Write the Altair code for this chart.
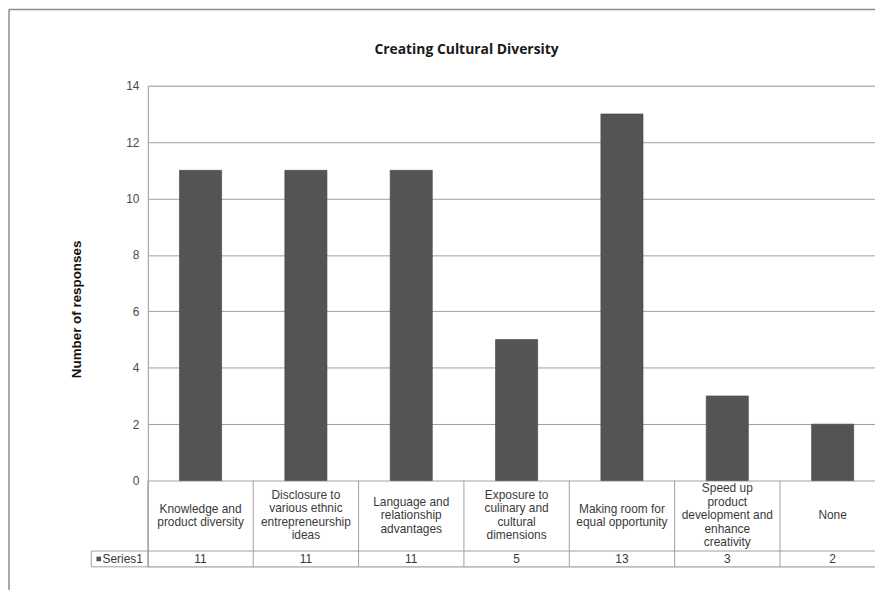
import altair as alt
import pandas as pd

# ---- data ----
categories = [
    "Knowledge and\nproduct diversity",
    "Disclosure to\nvarious ethnic\nentrepreneurship\nideas",
    "Language and\nrelationship\nadvantages",
    "Exposure to\nculinary and\ncultural\ndimensions",
    "Making room for\nequal opportunity",
    "Speed up\nproduct\ndevelopment and\nenhance\ncreativity",
    "None",
]
values = [11, 11, 11, 5, 13, 3, 2]
series_name = "Series1"
chart_title = "Creating Cultural Diversity"
y_ticks = [0, 2, 4, 6, 8, 10, 12, 14]

# ---- layout constants ----
W, H = 733, 485
PX_PER_UNIT = H / (14 + 3.06)
TABLE_BOTTOM = -3.06
ROW_SEP = -2.5
LABEL_Y = -1.23
VALUE_Y = -2.78
LEFT_CELL = -0.537
LINE_H = 13.5
FRAME_X = -1.318
FRAME_TOP = 16.7
FRAME_BOTTOM = -3.9
TITLE_X = 3.025
TITLE_Y = 15.27

n = len(categories)
df = pd.DataFrame({
    "i": list(range(n)),
    "label": categories,
    "value": values,
})
df["x0"] = df["i"] + 0.3
df["x1"] = df["i"] + 0.7
df["xc"] = df["i"] + 0.5
df["zero"] = 0
nlines = df["label"].str.count("\n") + 1
df["ly"] = LABEL_Y + (nlines - 1) / 2 * LINE_H / PX_PER_UNIT
df["vy"] = VALUE_Y

bounds = pd.DataFrame({"xb": list(range(n + 1))})
bounds["y0"] = 0
bounds["y1"] = TABLE_BOTTOM

hlines = pd.DataFrame({"xa": [LEFT_CELL, LEFT_CELL], "xe": [n, n], "yy": [ROW_SEP, TABLE_BOTTOM]})
cell = pd.DataFrame({"xa": [LEFT_CELL], "ya": [ROW_SEP], "yb": [TABLE_BOTTOM],
                     "kx": [-0.466], "tx": [-0.43], "ty": [VALUE_Y], "name": [series_name]})
frame_h = pd.DataFrame({"xa": [FRAME_X], "xe": [n], "yy": [FRAME_TOP]})
frame_v = pd.DataFrame({"xa": [FRAME_X], "ya": [FRAME_TOP], "yb": [FRAME_BOTTOM]})
title_df = pd.DataFrame({"tx": [TITLE_X], "ty": [TITLE_Y], "t": [chart_title]})

grid_col = "#a0a0a0"
bar_col = "#545454"
txt_col = "#3a3a3a"
FONT = "Liberation Sans"

xscale = alt.Scale(domain=[0, W / 106.2], nice=False, zero=False)
yscale = alt.Scale(domain=[TABLE_BOTTOM, 14], nice=False, zero=False)
yax = alt.Axis(values=y_ticks, grid=True, ticks=False, labelPadding=9,
               labelFont=FONT, labelFontSize=12, labelColor="#4a4a4a",
               domainColor=grid_col, gridColor=grid_col,
               title="Number of responses", titleFont=FONT,
               titleFontSize=13.5, titleFontWeight="bold", titleColor="#111111",
               titleX=-72, titleY=225, titleAngle=-90,
               titleAlign="center", titleBaseline="middle")


def X(f):
    return alt.X(f, scale=xscale, axis=None)


def Y(f):
    return alt.Y(f, scale=yscale, axis=yax)


base = alt.Chart(df)

bars = base.mark_bar(color=bar_col, stroke="#444444", strokeWidth=0.6).encode(
    x=X("x0:Q"), x2="x1:Q", y=Y("value:Q"), y2="zero:Q")

vrules = alt.Chart(bounds).mark_rule(color=grid_col, strokeWidth=1).encode(
    x=X("xb:Q"), y=Y("y0:Q"), y2="y1:Q")

hrules = alt.Chart(hlines).mark_rule(color=grid_col, strokeWidth=1).encode(
    x=X("xa:Q"), x2="xe:Q", y=Y("yy:Q"))

lrule = alt.Chart(cell).mark_rule(color=grid_col, strokeWidth=1).encode(
    x=X("xa:Q"), y=Y("ya:Q"), y2="yb:Q")

labels = base.mark_text(font=FONT, fontSize=12, lineHeight=LINE_H, color=txt_col,
                        lineBreak="\n", align="center", baseline="middle").encode(
    x=X("xc:Q"), y=Y("ly:Q"), text="label:N")

vals = base.mark_text(font=FONT, fontSize=12, color=txt_col,
                      align="center", baseline="middle").encode(
    x=X("xc:Q"), y=Y("vy:Q"), text="value:Q")

key = alt.Chart(cell).mark_point(shape="square", filled=True, size=22,
                                 color=bar_col, opacity=1).encode(
    x=X("kx:Q"), y=Y("ty:Q"))
keytxt = alt.Chart(cell).mark_text(font=FONT, fontSize=12, color=txt_col,
                                   align="left", baseline="middle").encode(
    x=X("tx:Q"), y=Y("ty:Q"), text="name:N")

ftop = alt.Chart(frame_h).mark_rule(color="#8c8c8c", strokeWidth=1.5).encode(
    x=X("xa:Q"), x2="xe:Q", y=Y("yy:Q"))
fleft = alt.Chart(frame_v).mark_rule(color="#8c8c8c", strokeWidth=1.5).encode(
    x=X("xa:Q"), y=Y("ya:Q"), y2="yb:Q")

title = alt.Chart(title_df).mark_text(font="Open Sans", fontSize=14, fontWeight="bold",
                                      color="#1a1a1a", align="center",
                                      baseline="middle").encode(
    x=X("tx:Q"), y=Y("ty:Q"), text="t:N")

chart = alt.layer(
    vrules, hrules, lrule, bars, labels, vals, key, keytxt, ftop, fleft, title
).properties(
    width=W, height=H,
    autosize=alt.AutoSizeParams(type="none"),
    padding={"left": 141, "top": 76, "right": 0, "bottom": 21},
).configure_view(stroke=None).configure(background="white")

chart.save("out.html", embed_options={"renderer": "svg", "actions": False})
